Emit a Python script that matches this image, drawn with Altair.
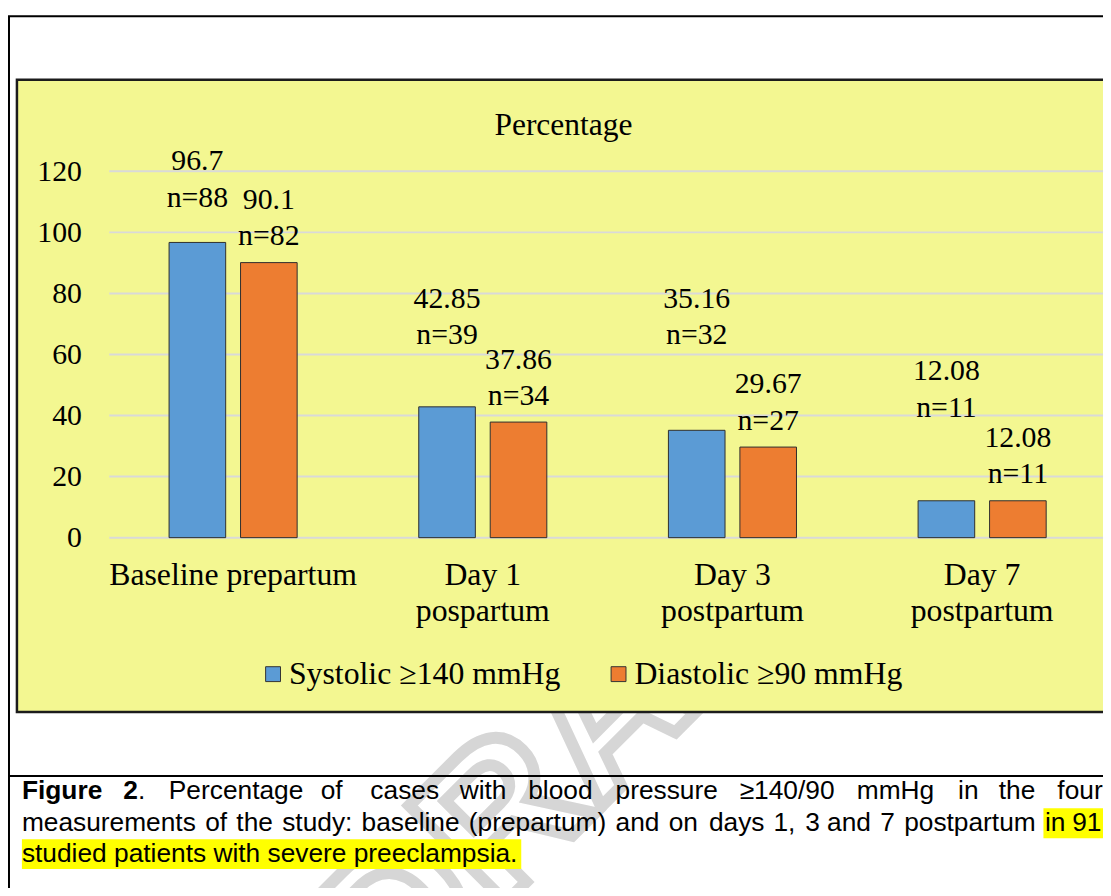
import altair as alt
import pandas as pd

# ---------------- data ----------------
CATEGORIES = ["Baseline prepartum", "Day 1\npospartum", "Day 3\npostpartum", "Day 7\npostpartum"]
SERIES = ["Systolic \u2265140 mmHg", "Diastolic \u226590 mmHg"]
SYSTOLIC = [96.7, 42.85, 35.16, 12.08]
DIASTOLIC = [90.1, 37.86, 29.67, 12.08]
SYSTOLIC_N = [88, 39, 32, 11]
DIASTOLIC_N = [82, 34, 27, 11]
Y_TICKS = [0, 20, 40, 60, 80, 100, 120]
CHART_TITLE = "Percentage"

CAPTION_LINE1 = ["Figure", "2", ".", "Percentage", "of", "cases", "with", "blood",
                 "pressure", "\u2265140/90", "mmHg", "in", "the", "four"]
CAPTION_LINE1_BOLD = [True, True, False, False, False, False, False, False,
                      False, False, False, False, False, False]
CAPTION_LINE2 = ["measurements", "of", "the", "study:", "baseline", "(prepartum)", "and",
                 "on", "days", "1,", "3", "and", "7", "postpartum", "in", "91"]
CAPTION_LINE3 = ["studied patients with severe preeclampsia."]
WATERMARK = "DRAFT"

# ---------------- layout (pixels / styles) ----------------
SERIF = "Liberation Serif"
SANS = "Liberation Sans"
BLUE, ORANGE = "#5B9BD5", "#ED7D31"
PANEL = "#F3F791"
GRID = "#D9D9D9"
PLOT_W, PLOT_H = 1002, 369
PAD_L, PAD_T, PAD_B = 101, 161.3, 349.7
OX, OY = 8 + PAD_L, 8 + PAD_T  # page position of plot origin


def px(x):
    return x - OX


def py(y):
    return y - OY


# label anchor heights (axis units) for the two-line bar labels
LABEL_POS = {"Systolic": [120.4, 75.3, 75.3, 51.5], "Diastolic": [107.8, 55.3, 47.3, 29.8]}
LINE1_X = [22, 124, 139, 170, 323, 373, 463, 532, 620, 745, 863, 965, 1006, 1065]
LINE2_X = [22, 206.6, 238, 284.2, 364.2, 472.2, 620, 673.5, 714, 779, 811, 833.1,
           886.6, 910.7, 1052.6, 1080]
LINE3_X = [22]
CAP_BASE = [802, 833.5, 865]

# ---------------- tables ----------------
rows = []
for i, c in enumerate(CATEGORIES):
    rows.append({"cat": c, "series": SERIES[0], "value": SYSTOLIC[i],
                 "label": f"{SYSTOLIC[i]}\nn={SYSTOLIC_N[i]}", "label_y": LABEL_POS["Systolic"][i]})
    rows.append({"cat": c, "series": SERIES[1], "value": DIASTOLIC[i],
                 "label": f"{DIASTOLIC[i]}\nn={DIASTOLIC_N[i]}", "label_y": LABEL_POS["Diastolic"][i]})
df = pd.DataFrame(rows)
grid_df = pd.DataFrame({"value": Y_TICKS})

cap_rows = []
for w, x, b in zip(CAPTION_LINE1, LINE1_X, CAPTION_LINE1_BOLD):
    cap_rows.append({"word": w, "x": px(x), "y": py(CAP_BASE[0]), "bold": b})
for w, x in zip(CAPTION_LINE2, LINE2_X):
    cap_rows.append({"word": w, "x": px(x), "y": py(CAP_BASE[1]), "bold": False})
for w, x in zip(CAPTION_LINE3, LINE3_X):
    cap_rows.append({"word": w, "x": px(x), "y": py(CAP_BASE[2]), "bold": False})
cap_df = pd.DataFrame(cap_rows)
one = pd.DataFrame({"k": [0]})

# ---------------- encodings ----------------
x_scale = alt.Scale(domain=CATEGORIES, range=[0, 1006], paddingInner=0.487, paddingOuter=0.2435)
x_axis = alt.Axis(labelExpr="split(datum.label, '\\n')", labelFont=SERIF, labelFontSize=32,
                  labelColor="#000000", labelBaseline="alphabetic", labelPadding=47.4,
                  labelLineHeight=36, labelLimit=0, labelAngle=0, ticks=False, tickSize=0,
                  domain=False, grid=False, zindex=1, title=None)
y_scale = alt.Scale(domain=[0, 120], nice=False, zero=True)
y_axis = alt.Axis(values=Y_TICKS, labelFont=SERIF, labelFontSize=30, labelColor="#000000",
                  labelPadding=27, ticks=False, tickSize=0, domain=False, grid=False,
                  zindex=1, title=None)
off_scale = alt.Scale(domain=SERIES, paddingInner=0.208, paddingOuter=0)
x_enc = alt.X("cat:N", sort=CATEGORIES, scale=x_scale, axis=x_axis, title=None)

# ---------------- layers ----------------
watermark = alt.Chart(one).mark_text(
    text=WATERMARK, font=SANS, fontWeight="bold", fontSize=200, angle=315,
    fill="transparent", stroke="#d6d6d6", strokeWidth=12, align="center", baseline="middle"
).encode(x=alt.value(px(595)), y=alt.value(py(735)))

outer_box = alt.Chart(one).mark_rect(fill="#ffffff", fillOpacity=0, stroke="#000000", strokeWidth=2).encode(
    x=alt.value(px(9)), x2=alt.value(1040), y=alt.value(py(13)), y2=alt.value(900))

panel = alt.Chart(one).mark_rect(fill=PANEL, stroke="#1c1c1c", strokeWidth=2.5).encode(
    x=alt.value(px(17)), x2=alt.value(1040), y=alt.value(py(77)), y2=alt.value(py(714)))

separator = alt.Chart(one).mark_rule(color="#000000", strokeWidth=2).encode(
    x=alt.value(px(8)), x2=alt.value(1040), y=alt.value(py(778.5)))

gridlines = alt.Chart(grid_df).mark_rule(color=GRID, strokeWidth=2).encode(
    y=alt.Y("value:Q", scale=y_scale, axis=y_axis, title=None),
    x=alt.value(1), x2=alt.value(1040))

bars = alt.Chart(df).mark_bar(stroke="#2e2e2e", strokeWidth=1).encode(
    x=x_enc,
    xOffset=alt.XOffset("series:N", sort=SERIES, scale=off_scale),
    y=alt.Y("value:Q", scale=y_scale, axis=y_axis, title=None),
    color=alt.Color("series:N", sort=SERIES,
                    scale=alt.Scale(domain=SERIES, range=[BLUE, ORANGE]),
                    legend=alt.Legend(orient="none", legendX=150, legendY=490.5,
                                      direction="horizontal", title=None,
                                      symbolType="square", symbolSize=225,
                                      symbolStrokeColor="#333333", symbolStrokeWidth=1,
                                      labelFont=SERIF, labelFontSize=32, labelColor="#000000",
                                      labelOffset=0, columnPadding=42, padding=0,
                                      labelLimit=0, zindex=1)),
)

labels = alt.Chart(df).mark_text(
    font=SERIF, fontSize=30, lineBreak="\n", lineHeight=36.7, baseline="alphabetic",
    align="center", color="#000000"
).encode(
    x=x_enc,
    xOffset=alt.XOffset("series:N", sort=SERIES, scale=off_scale),
    y=alt.Y("label_y:Q", scale=y_scale, axis=y_axis, title=None),
    text="label:N",
)

title = alt.Chart(one).mark_text(
    text=CHART_TITLE, font=SERIF, fontSize=31.7, color="#000000", align="center", baseline="alphabetic"
).encode(x=alt.value(px(567.5)), y=alt.value(py(132.3)))

hl3 = alt.Chart(one).mark_rect(fill="#FFFF00").encode(
    x=alt.value(px(22)), x2=alt.value(px(525)), y=alt.value(py(842)), y2=alt.value(py(872)))
hl2 = alt.Chart(one).mark_rect(fill="#FFFF00").encode(
    x=alt.value(px(1051)), x2=alt.value(1040), y=alt.value(py(811)), y2=alt.value(py(841)))

cap_regular = alt.Chart(cap_df).transform_filter("!datum.bold").mark_text(
    font=SANS, fontSize=26.5, color="#000000", align="left", baseline="alphabetic"
).encode(x=alt.X("x:Q", scale=None, axis=None), y=alt.Y("y:Q", scale=None, axis=None), text="word:N")
cap_bold = alt.Chart(cap_df).transform_filter("datum.bold").mark_text(
    font=SANS, fontSize=26.5, fontWeight="bold", color="#000000", align="left", baseline="alphabetic"
).encode(x=alt.X("x:Q", scale=None, axis=None), y=alt.Y("y:Q", scale=None, axis=None), text="word:N")

chart = alt.layer(
    watermark, outer_box, panel, separator, gridlines, bars, labels, title,
    hl3, hl2, cap_regular, cap_bold
).properties(
    width=PLOT_W, height=PLOT_H,
    padding={"left": PAD_L, "top": PAD_T, "right": 0, "bottom": PAD_B},
    autosize=alt.AutoSizeParams(type="none"),
    background="#ffffff",
).configure_view(stroke="transparent")

chart.save("out.html", embed_options={"renderer": "svg", "actions": False})
